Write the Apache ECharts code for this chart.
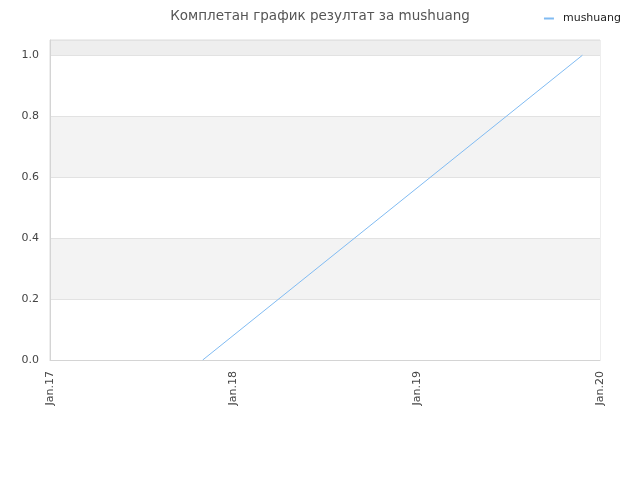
<!DOCTYPE html>
<html>
<head>
<meta charset="utf-8">
<script src="https://cdn.jsdelivr.net/npm/echarts@6/dist/echarts.min.js"></script>
<style>
  html, body { margin: 0; padding: 0; background: #fff; }
  #main { width: 640px; height: 480px; }
</style>
</head>
<body>
<div id="main"></div>
<script>
// podaci
var seriesName = 'mushuang';
var pointDates = ['2017-11-01', '2019-11-27'];
var pointValues = [0, 1];
var yearTicks = [2017, 2018, 2019, 2020];

// datum -> decimalna godina
function toYear(s) {
    var d = new Date(s + 'T00:00:00Z');
    var y = d.getUTCFullYear();
    var start = Date.UTC(y, 0, 1), end = Date.UTC(y + 1, 0, 1);
    return y + (d.getTime() - start) / (end - start);
}

var data = pointDates.map(function (s, i) { return [toYear(s), pointValues[i]]; });

var myChart = echarts.init(document.getElementById('main'));
var option = {
    animation: false,
    title: {
        text: 'Комплетан график резултат за mushuang',
        left: 'center',
        top: 4,
        textStyle: { fontSize: 13.5, fontWeight: 'normal', color: '#555', fontFamily: 'DejaVu Sans' }
    },
    legend: {
        right: 14,
        top: 8,
        itemWidth: 10,
        itemHeight: 2,
        icon: 'rect',
        textStyle: { fontSize: 11, color: '#222', fontFamily: 'DejaVu Sans', padding: [0, 0, 0, 4] },
        data: [seriesName]
    },
    grid: {
        left: 50, right: 40, top: 40, bottom: 120,
        show: true, borderColor: '#ddd', borderWidth: 1
    },
    xAxis: {
        type: 'value',
        min: yearTicks[0],
        max: yearTicks[yearTicks.length - 1],
        interval: 1,
        axisLine: { lineStyle: { color: '#d4d4d4' } },
        axisTick: { show: false },
        splitLine: { show: false },
        axisLabel: {
            rotate: 90,
            fontSize: 11,
            color: '#444',
            fontFamily: 'DejaVu Sans',
            margin: 11,
            formatter: function (v) { return 'Jan.' + String(Math.round(v)).slice(2); }
        }
    },
    yAxis: {
        type: 'value',
        min: 0,
        max: 1.05,
        interval: 0.2,
        axisLine: { show: true, lineStyle: { color: '#d4d4d4' } },
        axisTick: { show: false },
        splitLine: { show: true, lineStyle: { color: '#e2e2e2' } },
        splitArea: { show: true, areaStyle: { color: ['#fff', '#f3f3f3', '#fff', '#f3f3f3', '#fff', '#eee'] } },
        axisLabel: {
            fontSize: 11,
            color: '#444',
            fontFamily: 'DejaVu Sans',
            margin: 11,
            showMaxLabel: false,
            formatter: function (v) { return v.toFixed(1); }
        }
    },
    series: [{
        name: seriesName,
        type: 'line',
        data: data,
        symbol: 'none',
        lineStyle: { color: '#80bbf2', width: 1 },
        itemStyle: { color: '#80bbf2' }
    }]
};
myChart.setOption(option);
</script>
</body>
</html>
